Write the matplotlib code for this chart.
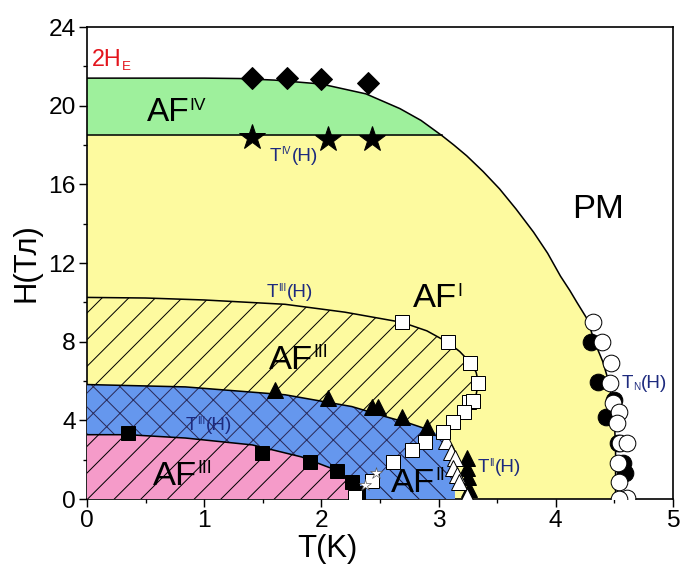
import matplotlib
matplotlib.use("Agg")
import matplotlib.pyplot as plt
from matplotlib.transforms import offset_copy

plt.rcParams['font.family'] = ['Liberation Sans', 'DejaVu Sans']
plt.rcParams['hatch.linewidth'] = 0.9

# ---------------- data ----------------
# paramagnetic boundary T_N(H)
pm_T = [0, 1.0, 1.3, 1.6, 2.0, 2.38, 2.67, 2.85, 3.03, 3.13, 3.24, 3.38, 3.52, 3.66, 3.81, 3.93, 4.04, 4.12, 4.18, 4.27,
        4.33, 4.40, 4.45, 4.48, 4.50, 4.51, 4.51]
pm_H = [21.4, 21.4, 21.38, 21.3, 21.1, 20.6, 19.85, 19.25, 18.47, 18.0, 17.45, 16.65, 15.77, 14.75, 13.57, 12.5, 11.33,
        10.6, 10.0, 9.13, 8.0, 7.0, 6.0, 5.0, 4.0, 2.5, 0]
# T_IV(H) line
tiv_T = [0, 3.03]
tiv_H = [18.5, 18.5]
# top of AF^III (hatched yellow) region
t3_T = [0, 0.5, 1.0, 1.69, 2.2, 2.69, 2.9, 3.08, 3.18, 3.27, 3.32, 3.34, 3.32, 3.26, 3.18, 3.10, 3.02]
t3_H = [10.25, 10.22, 10.12, 9.9, 9.5, 8.98, 8.55, 7.96, 7.5, 6.94, 6.45, 5.92, 5.3, 4.8, 4.3, 3.85, 3.4]
# top of blue region
bl_T = [0, 0.84, 1.69, 2.26, 2.54, 2.75, 2.9, 3.0]
bl_H = [5.82, 5.7, 5.3, 4.7, 4.2, 3.85, 3.55, 3.3]
bl_edge_T = [3.06, 3.10, 3.13, 3.14]
bl_edge_H = [3.0, 2.3, 1.4, 0]
# AF^II region left border (open squares line)
a2_T = [2.25, 2.43, 2.61, 2.77, 2.88, 3.0]
a2_H = [0, 0.87, 1.89, 2.5, 2.91, 3.3]
# top of pink region
pk_T = [0, 0.35, 0.84, 1.41, 1.83, 2.12, 2.26, 2.27]
pk_H = [3.27, 3.27, 3.1, 2.75, 2.14, 1.48, 0.8, 0]

# markers
dia_T = [1.41, 1.71, 2.0, 2.4]
dia_H = [21.4, 21.4, 21.35, 21.15]
star_T = [1.41, 2.06, 2.43]
star_H = [18.4, 18.3, 18.3]
sq_open_T = [2.69, 3.08, 3.27, 3.34, 3.26, 3.29, 3.22, 3.12, 3.04, 2.88, 2.77, 2.61, 2.43, 2.29]
sq_open_H = [8.98, 7.96, 6.94, 5.92, 4.95, 5.0, 4.44, 3.93, 3.42, 2.91, 2.5, 1.89, 0.9, 0.08]
sq_full_T = [0.35, 1.49, 1.9, 2.13, 2.26, 2.31]
sq_full_H = [3.37, 2.35, 1.9, 1.43, 0.85, 0.3]
tri_full_T = [1.6, 2.06, 2.43, 2.48, 2.69, 2.9]
tri_full_H = [5.56, 5.15, 4.68, 4.68, 4.15, 3.65]
tri2_full_T = [3.24, 3.24, 3.25, 3.26]
tri2_full_H = [2.1, 1.6, 1.1, 0.5]
tri_open_T = [3.06, 3.11, 3.14, 3.12, 3.16, 3.17, 3.24]
tri_open_H = [2.95, 2.4, 2.1, 1.6, 1.2, 0.87, 0.15]
smstar_T = [2.47, 2.37]
smstar_H = [1.33, 0.71]
circ_full_T = [4.30, 4.36, 4.50, 4.43, 4.53, 4.57, 4.59]
circ_full_H = [7.96, 5.97, 5.05, 4.18, 2.86, 1.84, 1.33]
circ_open_T = [4.32, 4.39, 4.47, 4.46, 4.49, 4.54, 4.52, 4.55, 4.61, 4.53, 4.54, 4.61, 4.54]
circ_open_H = [8.98, 7.96, 6.94, 5.92, 4.9, 4.44, 3.88, 2.86, 2.86, 1.84, 0.87, 0.05, 0.0]

# ---------------- figure ----------------
DPI = 80
fig = plt.figure(figsize=(680 / DPI, 573 / DPI), dpi=DPI)
ax = fig.add_axes([87 / 680, 1 - 499 / 573, (673 - 87) / 680, (499 - 27) / 573])
ax.set_xlim(0, 5)
ax.set_ylim(0, 24)

YEL = '#fdfa9f'
GRN = '#9ef09c'
BLU = '#6597ee'
PNK = '#f59bc9'

# yellow (AF^I) below PM boundary
ax.fill(pm_T + [0], pm_H + [0], facecolor=YEL, edgecolor='none', zorder=1)
# green AF^IV
g_T = [t for t in pm_T if t <= 3.03]
g_H = pm_H[:len(g_T)]
ax.fill(g_T + [0], g_H + [18.5], facecolor=GRN, edgecolor='none', zorder=1.5)
# hatched yellow AF^III
ax.fill(t3_T + [0], t3_H + [0], facecolor=YEL, edgecolor='black', hatch='/', linewidth=0, zorder=2)
# blue region, crosshatch
ax.fill(bl_T + bl_edge_T + [0], bl_H + bl_edge_H + [0], facecolor=BLU, edgecolor='#2a2a5a',
        hatch='x', linewidth=0, zorder=3)
# AF^II region, back hatch
ax.fill(a2_T + bl_edge_T, a2_H + bl_edge_H, facecolor=BLU, edgecolor='#1a1a40',
        hatch='\\', linewidth=0, zorder=3.5)
# pink AF^III
ax.fill(pk_T + [0], pk_H + [0], facecolor=PNK, edgecolor='black', hatch='/', linewidth=0, zorder=4)

lw = 1.4
ax.plot(pm_T, pm_H, color='black', lw=lw, zorder=5)
ax.plot(tiv_T, tiv_H, color='black', lw=lw, zorder=5)
ax.plot(t3_T[:13], t3_H[:13], color='black', lw=lw, zorder=5)
ax.plot(bl_T[:7], bl_H[:7], color='black', lw=lw, zorder=5)
ax.plot(pk_T[:7], pk_H[:7], color='black', lw=lw, zorder=5)

mk = dict(linestyle='none', markeredgecolor='black', markeredgewidth=0.9, zorder=6)
ax.plot(dia_T, dia_H, marker='D', markersize=14, markerfacecolor='black', **mk)
ax.plot(star_T, star_H, marker='*', markersize=24, markerfacecolor='black', **mk)
ax.plot(sq_full_T, sq_full_H, marker='s', markersize=13, markerfacecolor='black', **mk)
ax.plot(tri_full_T, tri_full_H, marker='^', markersize=15, markerfacecolor='black', **mk)
ax.plot(tri2_full_T, tri2_full_H, marker='^', markersize=15, markerfacecolor='black', **mk)
ax.plot(tri_open_T, tri_open_H, marker='^', markersize=15, markerfacecolor='white', **mk)
ax.plot(sq_open_T, sq_open_H, marker='s', markersize=13, markerfacecolor='white', **mk)
ax.plot(smstar_T, smstar_H, marker='*', markersize=11, markerfacecolor='white',
        linestyle='none', markeredgecolor='#555555', markeredgewidth=0.6, zorder=6)
ax.plot(circ_full_T, circ_full_H, marker='o', markersize=15, markerfacecolor='black', **mk)
ax.plot(circ_open_T, circ_open_H, marker='o', markersize=15, markerfacecolor='white', **mk)

# axes styling
for s in ax.spines.values():
    s.set_linewidth(1.5)
ax.set_xticks([0, 1, 2, 3, 4, 5])
ax.set_xticks([0.5, 1.5, 2.5, 3.5, 4.5], minor=True)
ax.set_yticks([0, 4, 8, 12, 16, 20, 24])
ax.set_yticks([2, 6, 10, 14, 18, 22], minor=True)
ax.tick_params(which='major', direction='out', length=7, width=1.3, labelsize=22,
               top=False, right=False, pad=3)
ax.tick_params(which='minor', direction='out', length=4, width=1.2, top=False, right=False)
ax.set_xlabel('T(K)', fontsize=28)
ax.xaxis.set_label_coords(0.41, -0.075)
ax.set_ylabel('H(Тл)', fontsize=28, labelpad=6)

renderer = fig.canvas.get_renderer()
NAVY = '#1d2a7e'


def rich(x, y, parts, color='black'):
    """parts: list of (text, fontsize, rise_in_points, gap_before_in_points)"""
    dx = 0.0
    for txt, size, rise, gap in parts:
        dx += gap
        tr = offset_copy(ax.transData, fig=fig, x=dx, y=rise, units='points')
        t = ax.text(x, y, txt, fontsize=size, color=color, ha='left', va='baseline',
                    transform=tr, zorder=8)
        w = t.get_window_extent(renderer).width * 72 / fig.dpi
        dx += w


def sup(x, y, base, s, size, color='black'):
    ss = size * 0.52
    rich(x, y, [(base, size, 0, 0), (s, ss, 0.716 * size - 0.716 * ss, 0.2)], color=color)


sup(0.51, 19.2, 'AF', 'IV', 30)
sup(1.55, 6.63, 'AF', 'III', 31)
sup(0.56, 0.71, 'AF', 'III', 31)
sup(2.78, 9.74, 'AF', 'I', 31)
sup(2.59, 0.36, 'AF', 'II', 31)
ax.text(4.14, 14.3, 'PM', fontsize=31, ha='left', va='baseline', zorder=8)

rich(0.04, 22.0, [('2H', 21, 0, 0), ('E', 12, -3, 0.5)], color='#e3141c')
for (x0, y0, s) in [(1.56, 17.2, 'IV'), (1.53, 10.25, 'III'), (0.84, 3.5, 'III'), (3.33, 1.36, 'II')]:
    rich(x0, y0, [('T', 17, 0, 0), (s, 9, 6, 0.3), ('(H)', 17, 0, 0.5)], color=NAVY)
rich(4.56, 5.66, [('T', 17, 0, 0), ('N', 9, -2, 0.3), ('(H)', 17, 0, 0.5)], color=NAVY)

fig.savefig('out.png', dpi=DPI)
